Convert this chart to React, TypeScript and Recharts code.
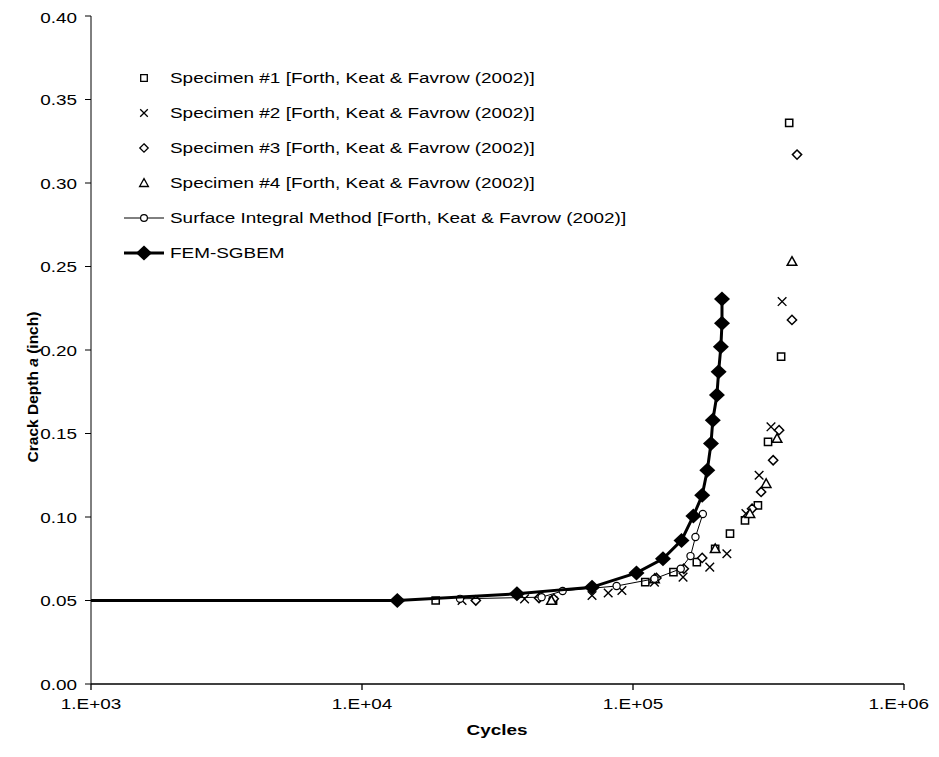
import {
  ScatterChart,
  Scatter,
  XAxis,
  YAxis,
} from 'recharts';

// cycles / crack depth (inch)
const spec1Cycles = [18700, 50700, 111000, 141000, 172000, 201000, 228000, 259000, 289000, 315000, 352000, 377000];
const spec1Depth = [0.05, 0.05, 0.061, 0.067, 0.073, 0.081, 0.09, 0.098, 0.107, 0.145, 0.196, 0.336];

const spec2Cycles = [23400, 39800, 70600, 81000, 91000, 120000, 153000, 192000, 222000, 261000, 292000, 323000, 355000];
const spec2Depth = [0.05, 0.051, 0.053, 0.0545, 0.056, 0.061, 0.064, 0.07, 0.078, 0.102, 0.125, 0.154, 0.229];

const spec3Cycles = [26300, 45000, 51000, 122000, 154000, 180000, 275000, 297000, 329000, 346000, 386000, 403000];
const spec3Depth = [0.05, 0.0515, 0.051, 0.0635, 0.069, 0.0755, 0.105, 0.115, 0.134, 0.152, 0.218, 0.317];

const spec4Cycles = [50000, 120000, 201000, 270000, 310000, 340000, 386000];
const spec4Depth = [0.05, 0.063, 0.081, 0.102, 0.12, 0.147, 0.253];

const sumCycles = [23000, 46000, 55000, 87000, 120000, 150000, 163000, 170000, 181000];
const sumDepth = [0.051, 0.052, 0.0557, 0.0587, 0.063, 0.069, 0.0766, 0.088, 0.1018];

const femCycles = [1000, 13500, 37300, 70600, 103000, 129000, 151000, 167000, 180000, 188000, 194000, 197000, 204000, 207000, 211000, 213000, 213000];
const femDepth = [0.05, 0.05, 0.054, 0.058, 0.0665, 0.075, 0.086, 0.1006, 0.113, 0.128, 0.144, 0.158, 0.173, 0.187, 0.202, 0.216, 0.2305];

const xTicks = [1000, 10000, 100000, 1000000];
const yTicks = [0, 0.05, 0.1, 0.15, 0.2, 0.25, 0.3, 0.35, 0.4];

const legendNames = [
  'Specimen #1 [Forth, Keat & Favrow (2002)]',
  'Specimen #2 [Forth, Keat & Favrow (2002)]',
  'Specimen #3 [Forth, Keat & Favrow (2002)]',
  'Specimen #4 [Forth, Keat & Favrow (2002)]',
  'Surface Integral Method [Forth, Keat & Favrow (2002)]',
  'FEM-SGBEM',
];

const zip = (xs: number[], ys: number[]) => xs.map((x, i) => ({ x, y: ys[i] }));

const FONT = 'Liberation Sans, Arial, sans-serif';
const FS = 15.5;
const STRETCH = 1.22; // the original text is widened horizontally
const CHART_W = 931;

const sq = (cx: number, cy: number, r: number) => `M${cx - r},${cy - r}h${2 * r}v${2 * r}h${-2 * r}Z`;
const cross = (cx: number, cy: number, r: number) =>
  `M${cx - r},${cy - r}L${cx + r},${cy + r}M${cx - r},${cy + r}L${cx + r},${cy - r}`;
const diamond = (cx: number, cy: number, rx: number, ry: number) =>
  `M${cx},${cy - ry}L${cx + rx},${cy}L${cx},${cy + ry}L${cx - rx},${cy}Z`;
const tri = (cx: number, cy: number, r: number) => `M${cx},${cy - r}L${cx + r},${cy + r * 0.8}L${cx - r},${cy + r * 0.8}Z`;

const Square = ({ cx, cy }: any) => <path d={sq(cx, cy, 3.6)} fill="#fff" stroke="#000" strokeWidth={1.5} />;
const Cross = ({ cx, cy }: any) => <path d={cross(cx, cy, 4.3)} stroke="#000" strokeWidth={1.4} />;
const OpenDiamond = ({ cx, cy }: any) => <path d={diamond(cx, cy, 4.6, 4.6)} fill="#fff" stroke="#000" strokeWidth={1.5} />;
const Triangle = ({ cx, cy }: any) => <path d={tri(cx, cy, 4.8)} fill="#fff" stroke="#000" strokeWidth={1.5} />;
const Circle = ({ cx, cy }: any) => <circle cx={cx} cy={cy} r={3.6} fill="#fff" stroke="#000" strokeWidth={1.2} />;
const FilledDiamond = ({ cx, cy, payload }: any) =>
  payload && payload.x <= 1000 ? null : <path d={diamond(cx, cy, 8, 7.5)} fill="#000" />;

const legendIcon = (i: number) => {
  const cx = 24;
  const cy = 10;
  switch (i) {
    case 0:
      return <path d={sq(cx, cy, 3.3)} fill="#fff" stroke="#000" strokeWidth={1.3} />;
    case 1:
      return <path d={cross(cx, cy, 3.8)} stroke="#000" strokeWidth={1.3} />;
    case 2:
      return <path d={diamond(cx, cy, 4.2, 4.2)} fill="#fff" stroke="#000" strokeWidth={1.3} />;
    case 3:
      return <path d={tri(cx, cy, 4.4)} fill="#fff" stroke="#000" strokeWidth={1.3} />;
    case 4:
      return (
        <g>
          <line x1={4} y1={cy} x2={44} y2={cy} stroke="#000" strokeWidth={1} />
          <circle cx={cx} cy={cy} r={3.4} fill="#fff" stroke="#000" strokeWidth={1.2} />
        </g>
      );
    default:
      return (
        <g>
          <line x1={4} y1={cy} x2={44} y2={cy} stroke="#000" strokeWidth={3} />
          <path d={diamond(cx, cy, 8, 7.5)} fill="#000" />
        </g>
      );
  }
};

const legendTop = [78, 113, 148, 183, 218, 253];

const LegendBox = () => (
  <>
    {legendNames.map((name, i) => (
      <div key={name} style={{ position: 'absolute', left: 112, top: legendTop[i] - 8 - 10, height: 20, display: 'flex', alignItems: 'center', whiteSpace: 'nowrap' }}>
        <svg width={48} height={20} style={{ flex: 'none' }}>
          {legendIcon(i)}
        </svg>
        <span
          style={{
            marginLeft: 2,
            fontFamily: FONT,
            fontSize: FS,
            color: '#000',
            display: 'inline-block',
            transform: `scaleX(${STRETCH})`,
            transformOrigin: 'left center',
          }}
        >
          {name}
        </span>
      </div>
    ))}
  </>
);

const XTick = ({ x, y, payload }: any) => {
  const exp = Math.round(Math.log10(payload.value));
  // the last label is pulled inside the picture, as the original does
  const last = payload.value >= 1000000;
  const tx = last ? CHART_W - 10 : x;
  return (
    <text
      transform={`translate(${tx},${y + 17}) scale(${STRETCH},1)`}
      textAnchor={last ? 'end' : 'middle'}
      fontFamily={FONT}
      fontSize={FS}
      fill="#000"
    >
      {`1.E+${String(exp).padStart(2, '0')}`}
    </text>
  );
};

const YTick = ({ x, y, payload }: any) => (
  <text transform={`translate(${x - 6},${y + 5.5}) scale(${STRETCH},1)`} textAnchor="end" fontFamily={FONT} fontSize={FS} fill="#000">
    {payload.value.toFixed(2)}
  </text>
);

export default function App() {
  return (
    <div style={{ position: 'relative', width: CHART_W, height: 741 }}>
      <style>{'html, body { overflow: hidden; }'}</style>
      <ScatterChart width={CHART_W} height={741} margin={{ top: 8, right: 35, bottom: 0, left: 0 }}>
        <XAxis
          xAxisId="b"
          dataKey="x"
          type="number"
          scale="log"
          domain={[1000, 1000000]}
          ticks={xTicks}
          allowDataOverflow
          height={65}
          stroke="#000"
          strokeWidth={1.3}
          tickSize={6}
          tick={<XTick />}
        />
        <XAxis xAxisId="t" orientation="top" dataKey="x" type="number" scale="log" domain={[1000, 1000000]} height={0} stroke="#8c8c8c" strokeWidth={2} tick={false} tickLine={false} />
        <YAxis
          yAxisId="l"
          dataKey="y"
          type="number"
          domain={[0, 0.4]}
          ticks={yTicks}
          width={83}
          stroke="#000"
          tickSize={6}
          tick={<YTick />}
        />
        <YAxis yAxisId="r" orientation="right" dataKey="y" type="number" domain={[0, 0.4]} width={0} stroke="#8c8c8c" strokeWidth={2} tick={false} tickLine={false} />
        <Scatter xAxisId="b" yAxisId="l" name={legendNames[0]} data={zip(spec1Cycles, spec1Depth)} shape={<Square />} isAnimationActive={false} />
        <Scatter xAxisId="b" yAxisId="l" name={legendNames[1]} data={zip(spec2Cycles, spec2Depth)} shape={<Cross />} isAnimationActive={false} />
        <Scatter xAxisId="b" yAxisId="l" name={legendNames[2]} data={zip(spec3Cycles, spec3Depth)} shape={<OpenDiamond />} isAnimationActive={false} />
        <Scatter xAxisId="b" yAxisId="l" name={legendNames[3]} data={zip(spec4Cycles, spec4Depth)} shape={<Triangle />} isAnimationActive={false} />
        <Scatter
          xAxisId="b"
          yAxisId="l"
          name={legendNames[4]}
          data={zip(sumCycles, sumDepth)}
          line={{ stroke: '#000', strokeWidth: 1 }}
          lineType="joint"
          shape={<Circle />}
          isAnimationActive={false}
        />
        <Scatter
          xAxisId="b"
          yAxisId="l"
          name={legendNames[5]}
          data={zip(femCycles, femDepth)}
          line={{ stroke: '#000', strokeWidth: 3 }}
          lineType="joint"
          shape={<FilledDiamond />}
          isAnimationActive={false}
        />
      </ScatterChart>

      <LegendBox />

      <div
        style={{
          position: 'absolute',
          left: 33 - 8 - 150,
          top: 387 - 8 - 10,
          width: 300,
          height: 20,
          lineHeight: '20px',
          textAlign: 'center',
          transform: 'rotate(-90deg)',
          fontFamily: FONT,
          fontSize: FS,
          fontWeight: 'bold',
          color: '#000',
          whiteSpace: 'nowrap',
        }}
      >
        Crack Depth <i>a</i> (inch)
      </div>
      <div
        style={{
          position: 'absolute',
          left: 497 - 8 - 100,
          top: 730 - 8 - 10,
          width: 200,
          height: 20,
          lineHeight: '20px',
          textAlign: 'center',
          fontFamily: FONT,
          fontSize: FS,
          fontWeight: 'bold',
          color: '#000',
        }}
      >
        <span style={{ display: 'inline-block', transform: `scaleX(${STRETCH})` }}>Cycles</span>
      </div>
    </div>
  );
}
